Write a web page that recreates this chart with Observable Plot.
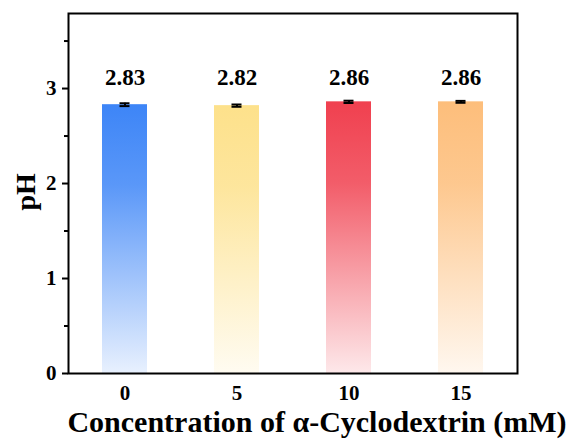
<!DOCTYPE html>
<html>
<head>
<meta charset="utf-8">
<script src="https://cdn.jsdelivr.net/npm/d3@7"></script>
<script src="https://cdn.jsdelivr.net/npm/@observablehq/plot@0.6"></script>
<style>
  html, body { margin: 0; padding: 0; background: #fff; }
  #chart svg { display: block; }
</style>
</head>
<body>
<div id="chart"></div>
<script>
// pH of the solution at each α-cyclodextrin concentration
const concentrations = ["0", "5", "10", "15"];
const phValues = [2.83, 2.82, 2.86, 2.86];
const phErrors = [0.015, 0.012, 0.012, 0.01];
const barColors = ["#3d85f7", "#fde18b", "#f0404f", "#fdbe7b"];
const yTicks = [0, 1, 2, 3];
const yMinorTicks = [0.5, 1.5, 2.5, 3.5];
const xTitle = "Concentration of α-Cyclodextrin (mM)";
const yTitle = "pH";

const rows = concentrations.map((c, i) => ({
  c, ph: phValues[i], err: phErrors[i], grad: `url(#bar-grad-${i})`
}));

const font = "'Liberation Serif', 'Times New Roman', serif";

const chart = Plot.plot({
  width: 573,
  height: 439,
  marginLeft: 68,
  marginRight: 56,
  marginTop: 13,
  marginBottom: 66,
  style: { fontFamily: font, fontWeight: "bold", fontSize: "21px", background: "#fff", color: "#000" },
  x: { domain: concentrations, paddingInner: 0.6, paddingOuter: 0.3 },
  y: { domain: [0, 3.79] },
  marks: [
    Plot.barY(rows, { x: "c", y: "ph", fill: "grad" }),
    Plot.ruleX(rows, { x: "c", y1: d => d.ph - d.err, y2: d => d.ph + d.err, stroke: "#000", strokeWidth: 2 }),
    Plot.tickY(rows, { x: "c", y: d => d.ph - d.err, stroke: "#000", strokeWidth: 2, insetLeft: 17.5, insetRight: 17.5 }),
    Plot.tickY(rows, { x: "c", y: d => d.ph + d.err, stroke: "#000", strokeWidth: 2, insetLeft: 17.5, insetRight: 17.5 }),
    Plot.text(rows, { x: "c", y: () => 3.12, text: d => d.ph.toFixed(2), fontSize: 23, fontWeight: "bold", fill: "#000" }),
    Plot.axisY({ ticks: yTicks, tickSize: 6, tickPadding: 6, tickFormat: d => String(d), label: null, strokeWidth: 2 }),
    Plot.axisY({ ticks: yMinorTicks, tickSize: 4, tickFormat: () => "", label: null, strokeWidth: 2 }),
    Plot.axisX({ tickSize: 0, tickPadding: 12, label: null }),
    Plot.frame({ stroke: "#000", strokeWidth: 2 }),
    Plot.text([xTitle], { frameAnchor: "bottom", dy: 58, dx: 24, fontSize: 30, fontWeight: "bold", fill: "#000" }),
    Plot.text([yTitle], { frameAnchor: "left", dx: -42, dy: 17, rotate: -90, fontSize: 28, fontWeight: "bold", fill: "#000" })
  ]
});

// Vertical fades for the bars: full colour at the top, pale at the base
const ns = "http://www.w3.org/2000/svg";
const defs = document.createElementNS(ns, "defs");
barColors.forEach((col, i) => {
  const g = document.createElementNS(ns, "linearGradient");
  g.setAttribute("id", `bar-grad-${i}`);
  g.setAttribute("x1", "0"); g.setAttribute("y1", "0");
  g.setAttribute("x2", "0"); g.setAttribute("y2", "1");
  [[0, 1], [0.3, 0.85], [1, 0.12]].forEach(([off, op]) => {
    const s = document.createElementNS(ns, "stop");
    s.setAttribute("offset", off);
    s.setAttribute("stop-color", col);
    s.setAttribute("stop-opacity", op);
    g.appendChild(s);
  });
  defs.appendChild(g);
});
chart.insertBefore(defs, chart.firstChild);

document.getElementById("chart").appendChild(chart);
</script>
</body>
</html>
